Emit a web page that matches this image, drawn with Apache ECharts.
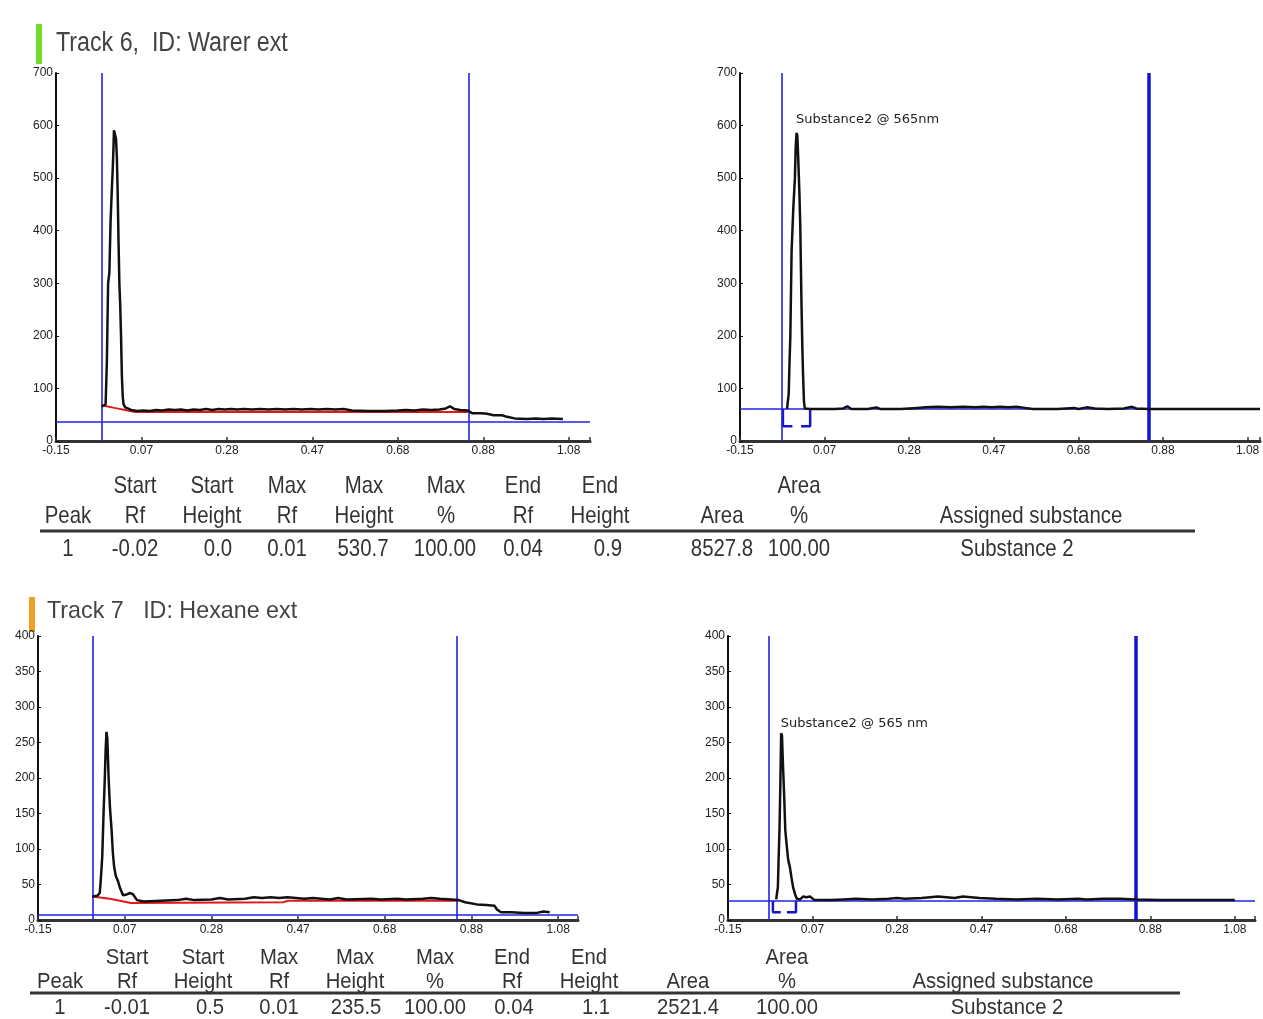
<!DOCTYPE html>
<html>
<head>
<meta charset="utf-8">
<script src="https://cdn.jsdelivr.net/npm/echarts@6/dist/echarts.min.js"></script>
<style>html,body{margin:0;padding:0;background:#fff}#c{width:1263px;height:1019px}</style>
</head>
<body>
<div id="c"></div>
<script>
// ---------------- DATA ----------------
const xTickLabels = ['-0.15', '0.07', '0.28', '0.47', '0.68', '0.88', '1.08'];
const titleTrack6 = 'Track 6,  ID: Warer ext';
const titleTrack7 = 'Track 7   ID: Hexane ext';
const peakLabel6 = 'Substance2 @ 565nm';
const peakLabel7 = 'Substance2 @ 565 nm';

// Track 6 densitogram (Rf, AU) - left panel
const track6Trace = [
[-0.041,66],[-0.036,67],[-0.031,70],[-0.028,150],[-0.025,300],[-0.022,320],[-0.019,420],[-0.016,480],[-0.014,515],[-0.012,560],[-0.011,591],[-0.008,588],[-0.006,575],[-0.004,540],[-0.002,470],[0.000,380],[0.002,300],[0.004,260],[0.006,200],[0.008,125],[0.010,85],[0.012,70],[0.016,64],[0.022,62],[0.03,59],[0.045,57],[0.06,58],[0.075,57],[0.09,59],[0.105,58],[0.12,60],[0.135,59],[0.15,60],[0.165,58],[0.18,60],[0.195,59],[0.21,61],[0.225,59],[0.24,61],[0.255,60],[0.27,61],[0.285,60],[0.30,61],[0.32,60],[0.34,61],[0.36,60],[0.38,61],[0.40,60],[0.42,61],[0.44,60],[0.46,61],[0.48,60],[0.50,61],[0.52,60],[0.54,61],[0.56,58],[0.60,57],[0.64,57],[0.67,58],[0.69,59],[0.71,58],[0.73,60],[0.75,59],[0.77,60],[0.785,62],[0.795,66],[0.805,61],[0.82,59],[0.838,58],[0.848,53],[0.87,53],[0.884,52],[0.90,49],[0.92,49],[0.932,46],[0.95,43],[0.98,42],[1.0,43],[1.02,42],[1.04,43],[1.066,42]
];
const track6Baseline = [[-0.041,68],[-0.01,63],[0.04,55],[0.838,55]];
const track6Start = -0.041, track6End = 0.838, track6Level = 37;

// Track 6 - right panel (integrated)
const track6TraceR = [
[-0.036,61],[-0.034,62],[-0.032,90],[-0.030,150],[-0.028,200],[-0.025,360],[-0.021,440],[-0.017,500],[-0.015,560],[-0.013,586],[-0.011,580],[-0.009,540],[-0.006,470],[-0.004,410],[-0.001,260],[0.001,180],[0.003,120],[0.005,75],[0.007,62],[0.02,61],[0.05,61],[0.08,61],[0.10,62],[0.11,66],[0.12,61],[0.16,61],[0.18,64],[0.19,61],[0.24,61],[0.28,63],[0.30,64],[0.33,65],[0.36,64],[0.39,65],[0.42,64],[0.44,65],[0.46,64],[0.48,65],[0.50,64],[0.52,65],[0.54,63],[0.56,61],[0.62,61],[0.66,63],[0.67,61],[0.69,64],[0.71,62],[0.74,61],[0.78,62],[0.80,65],[0.81,62],[0.84,61],[0.9,61],[1.0,61],[1.11,61]
];
const track6BracketL = [[-0.046,61],[-0.046,28],[-0.023,28]];
const track6BracketR = [[-0.002,28],[0.02,28],[0.02,61]];
const track6PeakR = [-0.013,586];
const track6StartR = -0.047, track6EndR = 0.838, track6LevelR = 61;

// Track 7 - left panel
const track7Trace = [
[-0.022,33],[-0.018,33],[-0.010,34],[-0.004,38],[-0.002,52],[0.002,90],[0.005,150],[0.008,200],[0.010,240],[0.012,265],[0.014,255],[0.017,200],[0.020,160],[0.024,127],[0.027,95],[0.030,75],[0.034,62],[0.039,55],[0.044,45],[0.051,35],[0.060,36],[0.068,38],[0.075,36],[0.084,28],[0.10,26],[0.14,27],[0.18,28],[0.20,30],[0.22,28],[0.26,29],[0.28,31],[0.30,29],[0.34,30],[0.36,32],[0.38,31],[0.40,32],[0.42,31],[0.44,32],[0.46,31],[0.48,30],[0.50,31],[0.54,29],[0.56,31],[0.58,29],[0.64,30],[0.66,29],[0.70,30],[0.72,29],[0.76,30],[0.78,31],[0.80,30],[0.845,28],[0.86,25],[0.888,22],[0.91,21],[0.93,20],[0.935,15],[0.945,11],[0.97,11],[1.0,10],[1.03,10],[1.045,12],[1.06,11]
];
const track7Baseline = [[-0.022,33],[0.02,30],[0.07,24],[0.43,25],[0.44,27],[0.845,27]];
const track7Start = -0.018, track7End = 0.845, track7Level = 7;

// Track 7 - right panel
const track7TraceR = [
[-0.033,29],[-0.031,38],[-0.029,46],[-0.027,90],[-0.025,127],[-0.023,190],[-0.021,263],[-0.019,260],[-0.017,225],[-0.014,180],[-0.011,127],[-0.008,108],[-0.004,85],[0.000,75],[0.004,60],[0.008,46],[0.013,36],[0.017,30],[0.025,29],[0.032,33],[0.040,32],[0.049,33],[0.06,28],[0.10,28],[0.13,29],[0.16,30],[0.20,29],[0.24,30],[0.26,31],[0.28,30],[0.32,31],[0.34,32],[0.36,33],[0.38,32],[0.40,31],[0.42,33],[0.44,32],[0.46,31],[0.50,30],[0.55,29],[0.60,30],[0.65,29],[0.70,30],[0.72,29],[0.76,30],[0.80,30],[0.84,29],[0.90,28],[1.0,28],[1.08,28]
];
const track7BracketL = [[-0.041,27],[-0.041,11],[-0.022,11]];
const track7BracketR = [[-0.007,11],[0.015,11],[0.015,27]];
const track7PeakR = [-0.021,263];
const track7StartR = -0.048, track7EndR = 0.840, track7LevelR = 27;

// Peak tables
const tableHead1 = ['', 'Start', 'Start', 'Max', 'Max', 'Max', 'End', 'End', '', 'Area', ''];
const tableHead2 = ['Peak', 'Rf', 'Height', 'Rf', 'Height', '%', 'Rf', 'Height', 'Area', '%', 'Assigned substance'];
const track6Row = ['1', '-0.02', '0.0', '0.01', '530.7', '100.00', '0.04', '0.9', '8527.8', '100.00', 'Substance 2'];
const track7Row = ['1', '-0.01', '0.5', '0.01', '235.5', '100.00', '0.04', '1.1', '2521.4', '100.00', 'Substance 2'];

// ---------------- LAYOUT / STYLE ----------------
const NARROW = "'Liberation Sans Narrow','Liberation Sans',sans-serif";
const BLUE = '#2323e0';
const BLUE_D = '#1414cc';

function xAx(g, max) {
  return {
    type: 'value', gridIndex: g, min: -0.15, max: max, interval: 0.205,
    splitLine: { show: false },
    axisLine: { onZero: false, lineStyle: { color: '#333', width: 3 } },
    axisTick: { show: true, inside: true, length: 4, lineStyle: { color: '#333', width: 1.5 } },
    axisLabel: { fontSize: 12, color: '#222', margin: 4, fontFamily: NARROW,
      formatter: (v, i) => (xTickLabels[i] !== undefined ? xTickLabels[i] : '') }
  };
}
function yAx(g, max, step) {
  return {
    type: 'value', gridIndex: g, min: 0, max: max, interval: step,
    splitLine: { show: false },
    axisLine: { show: true, onZero: false, lineStyle: { color: '#111', width: 2 } },
    axisTick: { show: true, inside: true, length: 3, lineStyle: { color: '#111' } },
    axisLabel: { fontSize: 12, color: '#222', margin: 3, fontFamily: NARROW }
  };
}
function trace(g, data, extra) {
  return Object.assign({ type: 'line', xAxisIndex: g, yAxisIndex: g, data: data, symbol: 'none',
    silent: true, lineStyle: { color: '#111', width: 2.5 }, z: 5 }, extra || {});
}
function guides(start, end, level, thickEnd) {
  return {
    silent: true, symbol: ['none', 'none'], label: { show: false }, animation: false,
    lineStyle: { color: BLUE, width: 1.6, type: 'solid' },
    data: [
      { xAxis: start },
      { xAxis: end, lineStyle: thickEnd ? { color: BLUE_D, width: 3.5, type: 'solid' } : { color: BLUE, width: 1.6, type: 'solid' } },
      { yAxis: level }
    ]
  };
}
function peakMark(coord, text, dy) {
  return {
    silent: true, symbol: 'circle', symbolSize: 1, itemStyle: { color: 'rgba(0,0,0,0)' },
    label: { show: true, position: 'right', distance: 0, offset: [-1, dy], formatter: () => text,
      fontSize: 13, fontFamily: "'DejaVu Sans',sans-serif", color: '#222' },
    data: [{ coord: coord }]
  };
}
const bracketStyle = { color: BLUE_D, width: 2.5 };

const series = [
  trace(0, track6Trace),
  trace(0, track6Baseline, { lineStyle: { color: '#e01818', width: 2 }, z: 4, markLine: guides(track6Start, track6End, track6Level, false) }),
  trace(1, track6TraceR, { markPoint: peakMark(track6PeakR, peakLabel6, -13) }),
  trace(1, track6BracketL, { lineStyle: bracketStyle, z: 4, markLine: guides(track6StartR, track6EndR, track6LevelR, true) }),
  trace(1, track6BracketR, { lineStyle: bracketStyle, z: 4 }),
  trace(2, track7Trace),
  trace(2, track7Baseline, { lineStyle: { color: '#e01818', width: 2 }, z: 4, markLine: guides(track7Start, track7End, track7Level, false) }),
  trace(3, track7TraceR, { markPoint: peakMark(track7PeakR, peakLabel7, -10) }),
  trace(3, track7BracketL, { lineStyle: bracketStyle, z: 4, markLine: guides(track7StartR, track7EndR, track7LevelR, true) }),
  trace(3, track7BracketR, { lineStyle: bracketStyle, z: 4 })
];

function txt(x, y, text, size, sx, align, color) {
  return { type: 'text', x: x, y: y, scaleX: sx, silent: true,
    style: { text: text, fontSize: size, fontFamily: "'Liberation Sans',Arial,sans-serif",
      fill: color || '#333', align: align || 'center', textAlign: align || 'center',
      verticalAlign: 'middle', textVerticalAlign: 'middle' } };
}
const graphics = [];
graphics.push({ type: 'rect', silent: true, shape: { x: 36, y: 24, width: 6, height: 40 }, style: { fill: '#72dc2c' } });
graphics.push({ type: 'rect', silent: true, shape: { x: 29, y: 597, width: 6, height: 35 }, style: { fill: '#efa21f' } });
graphics.push(txt(56, 44, titleTrack6, 27, 0.86, 'left', '#444'));
graphics.push(txt(47, 611, titleTrack7, 24, 0.97, 'left', '#444'));

const colTopHead = [68, 135, 212, 287, 364, 446, 523, 600, 722, 799, 1031];
const colTopVal = [68, 135, 218, 287, 363, 445, 523, 608, 722, 799, 1017];
const colBotHead = [60, 127, 203, 279, 355, 435, 512, 589, 688, 787, 1003];
const colBotVal = [60, 127, 210, 279, 356, 435, 514, 596, 688, 787, 1007];
tableHead1.forEach((t, i) => { if (t) graphics.push(txt(colTopHead[i], 486, t, 24, 0.85)); });
tableHead2.forEach((t, i) => { graphics.push(txt(colTopHead[i], 516, t, 24, 0.85)); });
track6Row.forEach((t, i) => { graphics.push(txt(colTopVal[i], 549, t, 24, 0.85)); });
tableHead1.forEach((t, i) => { if (t) graphics.push(txt(colBotHead[i], 958, t, 22, 0.92)); });
tableHead2.forEach((t, i) => { graphics.push(txt(colBotHead[i], 982, t, 22, 0.92)); });
track7Row.forEach((t, i) => { graphics.push(txt(colBotVal[i], 1008, t, 22, 0.92)); });
graphics.push({ type: 'line', silent: true, shape: { x1: 40, y1: 531, x2: 1195, y2: 531 }, style: { stroke: '#333', lineWidth: 3 } });
graphics.push({ type: 'line', silent: true, shape: { x1: 30, y1: 993, x2: 1180, y2: 993 }, style: { stroke: '#333', lineWidth: 3 } });

const option = {
  animation: false,
  backgroundColor: '#fff',
  grid: [
    { left: 56, top: 73, width: 534, height: 368 },
    { left: 740, top: 73, width: 523, height: 368 },
    { left: 38, top: 636, width: 540, height: 284 },
    { left: 728, top: 636, width: 527, height: 284 }
  ],
  xAxis: [xAx(0, 1.131), xAx(1, 1.11), xAx(2, 1.127), xAx(3, 1.129)],
  yAxis: [yAx(0, 700, 100), yAx(1, 700, 100), yAx(2, 400, 50), yAx(3, 400, 50)],
  series: series,
  graphic: graphics
};
const chart = echarts.init(document.getElementById('c'), null, { renderer: 'canvas' });
chart.setOption(option);
</script>
</body>
</html>
